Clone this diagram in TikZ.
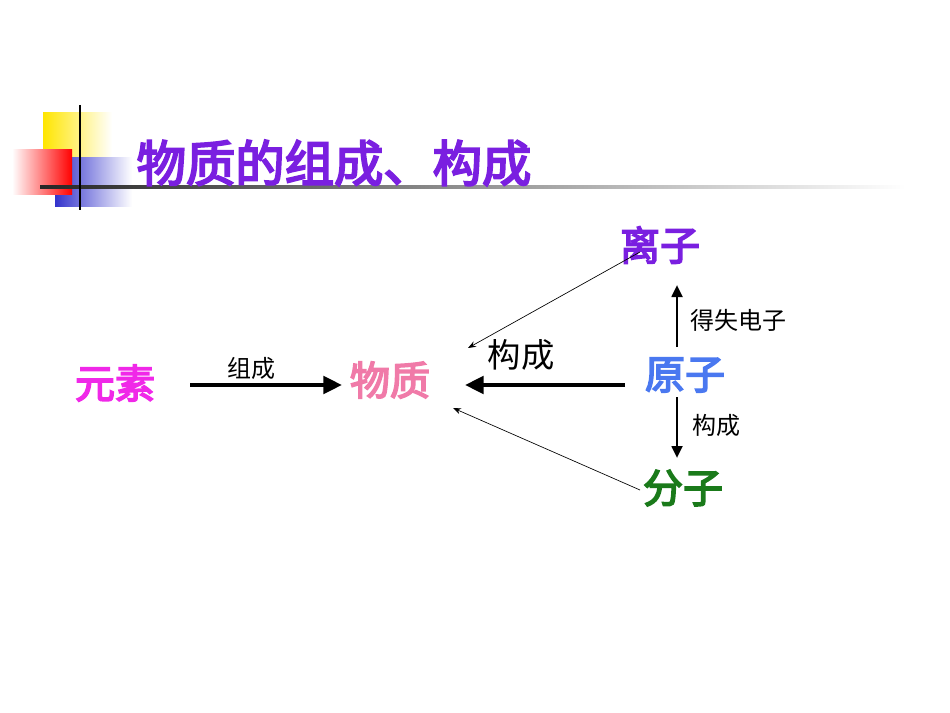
\documentclass[tikz,border=0pt]{standalone}
\usepackage{fontspec}
\setmainfont{Noto Sans CJK SC}
\newfontfamily\cjkb[FakeBold=4]{Noto Sans CJK SC}
\usetikzlibrary{arrows.meta}
\definecolor{ttl}{HTML}{7A1FE0}
\definecolor{pink}{HTML}{F028E8}
\definecolor{rose}{HTML}{F07AA8}
\definecolor{ionc}{HTML}{7A1FE0}
\definecolor{atomc}{HTML}{4A78F0}
\definecolor{molc}{HTML}{1A7A1A}
\begin{document}
\begin{tikzpicture}[x=0.75pt,y=-0.75pt,
  big/.style={font=\cjkb\fontsize{30}{32}\selectfont},
  lbl/.style={font=\fontsize{18}{20}\selectfont},
  thick arrow/.style={line width=3pt,-{Triangle[length=14pt,width=13pt]}},
  mid arrow/.style={line width=2pt,-{Triangle[length=9pt,width=8pt]}},
  thin arrow/.style={line width=0.5pt,-{Stealth[length=6pt]}}]
\useasboundingbox (0,0) rectangle (950,713);
% decoration
\shade[left color=yellow!80!orange, right color=white] (43,113) rectangle (112,180);
\shade[left color=blue!75!black!80, right color=white] (55,158) rectangle (132,207);
\shade[left color=white, right color=red] (12,150) rectangle (72,195);
\shade[left color=black!85, right color=white] (40,186) rectangle (905,189);
\draw[line width=2pt] (80,105) -- (80,210);
\node[font=\cjkb\fontsize{37}{40}\selectfont, text=ttl, anchor=west] (title) at (132,163) {物质的组成、构成};
% nodes
\node[big, text=pink] (ys) at (115,383) {元素};
\node[big, text=rose] (wz) at (390,380) {物质};
\node[big, text=ionc] (lz) at (660,245) {离子};
\node[big, text=atomc] (yz) at (685,375) {原子};
\node[big, text=molc] (fz) at (683,488) {分子};
\coordinate (wzin) at (465,385);
\coordinate (wzt) at (468,348);
\coordinate (wzb) at (453,408);
\draw[thick arrow] (190,385) -- (342,385);
\draw[thick arrow] (625,385) -- (wzin);
\draw[thin arrow] (640,252) -- (wzt);
\draw[thin arrow] (640,490) -- (wzb);
\draw[mid arrow] (677,347) -- (677,285);
\draw[mid arrow] (677,397) -- (677,458);
\node[lbl] (l1) at (251,368) {组成};
\node[font=\fontsize{25}{27}\selectfont] (l2) at (521,355) {构成};
\node[lbl] (l3) at (738,320) {得失电子};
\node[lbl] (l4) at (716,425) {构成};
\end{tikzpicture}
\end{document}
